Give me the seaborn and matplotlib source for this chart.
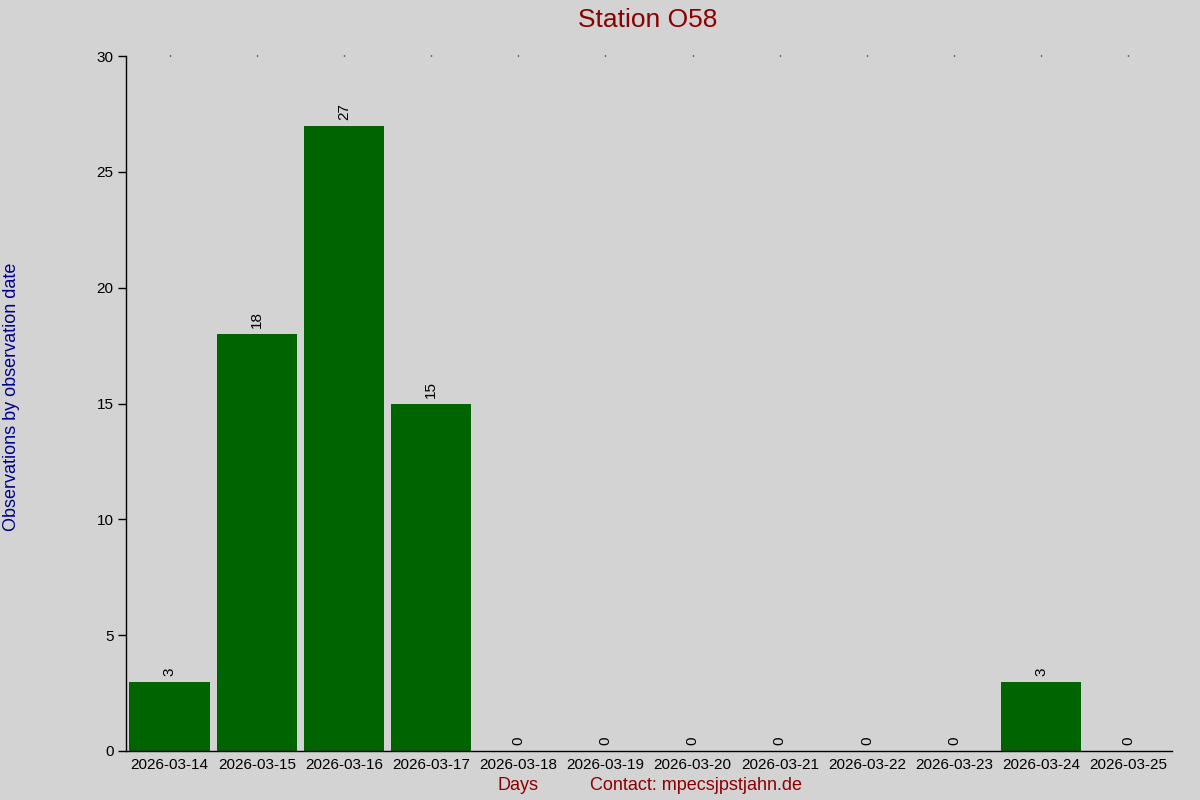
import pandas as pd
import matplotlib.pyplot as plt
import seaborn as sns

days = ['2026-03-14', '2026-03-15', '2026-03-16', '2026-03-17', '2026-03-18', '2026-03-19',
        '2026-03-20', '2026-03-21', '2026-03-22', '2026-03-23', '2026-03-24', '2026-03-25']
counts = [3, 18, 27, 15, 0, 0, 0, 0, 0, 0, 3, 0]

df = pd.DataFrame({'Day': days, 'Count': counts})

sns.set_style('white')
plt.rcParams['font.family'] = ['Liberation Sans', 'DejaVu Sans']
plt.rcParams['text.color'] = 'black'
plt.rcParams['xtick.color'] = 'black'
plt.rcParams['ytick.color'] = 'black'

fig = plt.figure(figsize=(12, 8), dpi=100, facecolor='#d3d3d3')
ax = fig.add_axes([0.105, 0.06125, 0.8717, 0.86875])
ax.set_facecolor('#d3d3d3')

sns.barplot(data=df, x='Day', y='Count', color='#006400', saturation=1, width=0.92,
            linewidth=0, ax=ax)

for i, c in enumerate(counts):
    ax.annotate(str(c), (i, c), xytext=(0, 4), textcoords='offset points',
                rotation=90, ha='center', va='bottom', fontsize=11, color='black')

ax.set_ylim(0, 30)
ax.set_xlim(-0.5, 11.5)
ax.set_yticks([0, 5, 10, 15, 20, 25, 30])
ax.tick_params(axis='y', left=True, length=6, width=1, color='black', labelsize=11,
               labelcolor='black', pad=3)
ax.tick_params(axis='x', bottom=False, top=True, length=1, width=1, color='black',
               labelbottom=True, labelsize=11, labelcolor='black', pad=4)

for s in ['top', 'right']:
    ax.spines[s].set_visible(False)
for s in ['left', 'bottom']:
    ax.spines[s].set_color('black')
    ax.spines[s].set_linewidth(1)

ax.set_xlabel('')
ax.set_ylabel('')

fig.text(0.54, 0.975, 'Station O58', ha='center', va='center', fontsize=19, color='#8b0000')
fig.text(0.01, 0.504, 'Observations by observation date', rotation=90, ha='center', va='center',
         fontsize=13, color='#00008b')
fig.text(0.4317, 0.0175, 'Days', ha='center', va='center', fontsize=13, color='#8b0000')
fig.text(0.4917, 0.0175, 'Contact: mpecsjpstjahn.de', ha='left', va='center', fontsize=13,
         color='#8b0000')

fig.savefig('out.png', dpi=100, facecolor='#d3d3d3')
